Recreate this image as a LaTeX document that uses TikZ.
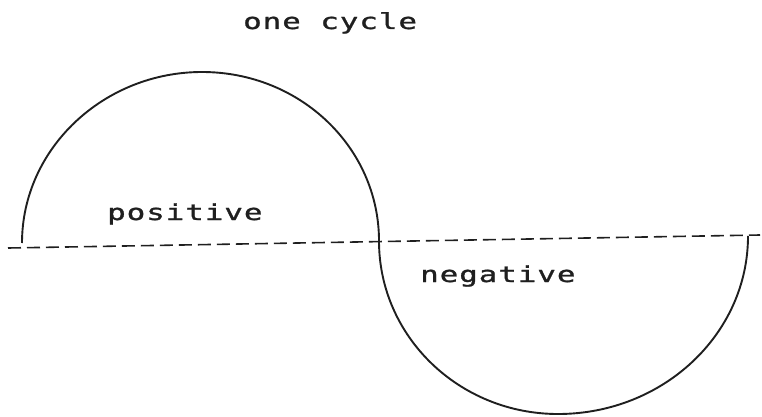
\documentclass[tikz,border=0pt]{standalone}
\usepackage{fontspec}
\newfontfamily\plotfont[FakeStretch=1.4,LetterSpace=4.5,FakeBold=1.2]{DejaVu Sans Mono}
\begin{document}
\begin{tikzpicture}[x=1pt,y=1pt,
  curve/.style={line width=1.9pt,black!88},
  axisline/.style={line width=1.6pt,black!88,dash pattern=on 13pt off 6pt},
  lbl/.style={font=\plotfont\fontsize{22}{22}\selectfont,inner sep=0pt,anchor=base west,text=black!88}]
\useasboundingbox (0,0) rectangle (762,416);
\coordinate (A0) at (8,168);
\coordinate (A1) at (760,181);
\coordinate (L) at (22,173);
\coordinate (T) at (202,344);
\coordinate (M) at (379,175);
\coordinate (B) at (558,2);
\coordinate (R) at (748,180);
\draw[axisline] (A0) -- (A1);
\draw[curve] (L) .. controls (22,267.4) and (103.7,344) .. (T)
  .. controls (300.3,344) and (379,268.3) .. (M);
\draw[curve] (M) .. controls (379,79.5) and (459.1,2) .. (B)
  .. controls (662.9,2) and (748,81.7) .. (R);
\node[lbl] (title) at (243,387) {one cycle};
\node[lbl] (pos) at (107,196) {positive};
\node[lbl] (neg) at (420,134) {negative};
\end{tikzpicture}
\end{document}
